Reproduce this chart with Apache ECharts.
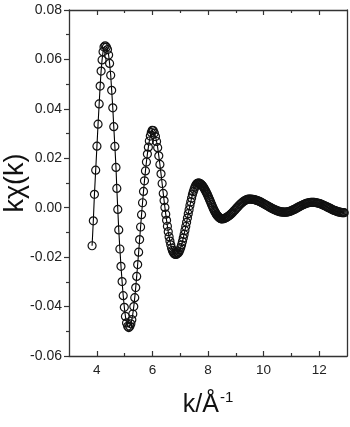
<!DOCTYPE html>
<html><head><meta charset="utf-8">
<script src="https://cdn.jsdelivr.net/npm/echarts@6/dist/echarts.min.js"></script>
<style>html,body{margin:0;padding:0;background:#fff}#c{width:350px;height:427px}</style>
</head><body><div id="c"></div>
<script>
const kValues = [
3.83,3.875,3.915,3.96,4.005,4.045,4.085,4.12,4.155,4.19,4.225,4.26,4.30,
4.345,4.385,4.425,4.46,4.50,4.535,4.575,4.61,4.65,4.69,4.72,4.755,4.79,4.83,4.87,4.91,4.95,4.99,5.03,5.07,5.11,5.15,5.19,
5.225,5.26,5.295,5.33,5.365,5.40,5.435,5.47,5.505,5.54,5.575,5.61,5.645,5.68,5.715,5.75,5.785,5.82,5.855,5.89,5.925,5.96,5.995,
6.03,6.07,6.11,6.15,6.19,6.23,6.27,6.31,6.35,6.39,6.42,6.45,6.48,6.51,6.54,6.57,6.60,6.63,6.66,6.69,6.72,6.75,6.78,6.81,6.84,6.87,6.90,
6.93,6.96,6.99,7.02,7.05,7.08,7.11,7.14,7.17,7.20,7.23,7.26,7.29,7.32,7.35,7.38,7.41,7.44,7.47,7.50,7.53,7.56,7.59,7.62,7.65,
7.675,7.70,7.725,7.75,7.775,7.80,7.825,7.85,7.875,7.90,7.925,7.95,7.975,8.00,8.025,8.05,8.075,8.10,8.125,8.15,8.175,8.20,8.225,8.25,8.275,8.30,8.325,8.35,8.375,8.40,8.425,8.45,8.475,8.50,
8.54,8.58,8.62,8.66,8.70,8.74,8.78,8.82,8.86,8.90,8.94,8.98,9.02,9.06,9.10,9.14,9.18,9.22,9.26,9.30,9.34,9.38,9.42,9.46,9.50,
9.54,9.58,9.62,9.66,9.70,9.74,9.78,9.82,9.86,9.90,9.94,9.98,10.02,10.06,10.10,10.14,10.18,10.22,10.26,10.30,10.34,10.38,10.42,10.46,10.50,10.54,10.58,10.62,10.66,10.70,10.74,
10.78,10.82,10.86,10.90,10.94,10.98,11.02,11.06,11.10,11.14,11.18,11.22,11.26,11.30,11.34,11.38,11.42,11.46,11.50,11.54,11.58,11.62,11.66,11.70,11.74,
11.78,11.82,11.86,11.90,11.94,11.98,12.02,12.06,12.10,12.14,12.18,12.22,12.26,12.30,12.34,12.38,12.42,12.46,12.50,12.54,12.58,12.62,12.66,12.70,12.74,12.78,12.82,12.86,12.90
];
const chiValues = [
-0.0154,-0.0053,0.0054,0.0152,0.0249,0.0338,0.0420,0.0492,0.0553,0.0598,0.0631,0.0650,0.0655,
0.0650,0.0640,0.0618,0.0584,0.0536,0.0475,0.0404,0.0328,0.0248,0.0163,0.0078,-0.0007,-0.0090,-0.0167,-0.0237,-0.0299,-0.0356,-0.0403,-0.0440,-0.0466,-0.0480,-0.0485,-0.0480,
-0.0470,-0.0453,-0.0430,-0.0400,-0.0364,-0.0323,-0.0278,-0.0230,-0.0180,-0.0129,-0.0078,-0.0028,0.0020,0.0066,0.0109,0.0149,0.0185,0.0217,0.0245,0.0270,0.0290,0.0304,0.0313,
0.0312,0.0302,0.0288,0.0268,0.0243,0.0210,0.0175,0.0137,0.0098,0.0058,0.0029,0.0001,-0.0026,-0.0051,-0.0075,-0.0097,-0.0117,-0.0135,-0.0150,-0.0163,-0.0173,-0.0180,-0.0185,-0.0188,-0.0189,-0.0188,-0.0184,
-0.0183,-0.0178,-0.0170,-0.0161,-0.0150,-0.0137,-0.0123,-0.0108,-0.0092,-0.0076,-0.0059,-0.0042,-0.0024,-0.0008,0.0009,0.0024,0.0039,0.0053,0.0065,0.0075,0.0084,0.0091,0.0096,0.0099,0.0100,
0.0100,0.0099,0.0097,0.0095,0.0092,0.0089,0.0085,0.0081,0.0076,0.0071,0.0066,0.0060,0.0054,0.0047,0.0041,0.0034,0.0028,0.0021,0.0014,0.0008,0.0001,-0.0005,-0.0011,-0.0016,-0.0021,-0.0026,-0.0030,-0.0034,-0.0037,-0.0040,-0.0042,-0.0044,-0.0045,-0.0045,
-0.0045,-0.0044,-0.0042,-0.0040,-0.0037,-0.0034,-0.0030,-0.0026,-0.0022,-0.0017,-0.0012,-0.0008,-0.0002,0.0002,0.0007,0.0012,0.0016,0.0020,0.0024,0.0027,0.0030,0.0032,0.0034,0.0035,0.0035,
0.0035,0.0034,0.0034,0.0033,0.0032,0.0030,0.0029,0.0027,0.0025,0.0023,0.0020,0.0018,0.0015,0.0013,0.0010,0.0008,0.0005,0.0002,0.0000,-0.0003,-0.0005,-0.0007,-0.0009,-0.0011,-0.0013,-0.0014,-0.0016,-0.0017,-0.0017,-0.0018,-0.0018,
-0.0018,-0.0018,-0.0017,-0.0016,-0.0015,-0.0013,-0.0011,-0.0009,-0.0007,-0.0005,-0.0002,0.0000,0.0003,0.0005,0.0008,0.0010,0.0012,0.0014,0.0016,0.0018,0.0019,0.0020,0.0021,0.0022,0.0022,
0.0022,0.0022,0.0021,0.0020,0.0019,0.0018,0.0017,0.0015,0.0013,0.0011,0.0009,0.0007,0.0005,0.0002,0.0000,-0.0002,-0.0004,-0.0007,-0.0009,-0.0011,-0.0012,-0.0014,-0.0016,-0.0017,-0.0018,-0.0019,-0.0020,-0.0020,-0.0020
];
const xMajorTicks = [4, 6, 8, 10, 12];
const xMinorTicks = [5, 7, 9, 11];
const yMin = -0.06, yMax = 0.08, yStep = 0.02;
const xMin = 3, xMax = 13;

const axisColor = '#333';
const labelColor = '#222';
const FONT = '"Liberation Sans", Arial, sans-serif';

const chart = echarts.init(document.getElementById('c'), null, {renderer: 'canvas'});
const data = kValues.map((k, i) => [k, chiValues[i]]);

function xAxisCfg(pos, ticks, len, showLabels, showLine, name) {
  const a = {
    type: 'value', position: pos, min: xMin, max: xMax, interval: 1,
    axisLine: {show: showLine, onZero: false, lineStyle: {color: axisColor, width: 1.3}},
    axisTick: {show: true, inside: true, length: len, customValues: ticks, lineStyle: {color: axisColor, width: 1.2}},
    axisLabel: {show: showLabels, customValues: xMajorTicks, color: labelColor, fontFamily: FONT, fontSize: 13.5, margin: 7,
      formatter: v => (v % 2 === 0 ? String(v) : '')},
    splitLine: {show: false}
  };
  if (name) {
    a.name = '{n|k/Å}{s|-1}';
    a.nameLocation = 'middle';
    a.nameGap = 34;
    a.nameMoveOverlap = false;
    a.nameTextStyle = {
      fontFamily: FONT, color: '#111',
      rich: {
        n: {fontSize: 25, fontFamily: FONT, color: '#111', lineHeight: 30},
        s: {fontSize: 15, fontFamily: FONT, color: '#111', padding: [0, 0, 14, 1]}
      }
    };
  }
  return a;
}

chart.setOption({
  animation: false,
  backgroundColor: '#fff',
  grid: {left: 69, right: 3, top: 10, bottom: 71, containLabel: false, outerBoundsMode: 'none'},
  xAxis: [
    xAxisCfg('bottom', xMajorTicks, 5, true, true, true),
    xAxisCfg('bottom', xMinorTicks, 3, false, false, false),
    xAxisCfg('top', xMajorTicks, 5, false, true, false),
    xAxisCfg('top', xMinorTicks, 3, false, false, false)
  ],
  yAxis: [
    {
      type: 'value', position: 'left', min: yMin, max: yMax, interval: yStep,
      name: 'kχ(k)', nameLocation: 'middle', nameRotate: 90, nameGap: 40, nameMoveOverlap: false,
      nameTextStyle: {fontFamily: FONT, fontSize: 27, color: '#111'},
      axisLine: {show: true, onZero: false, lineStyle: {color: axisColor, width: 1.3}},
      axisTick: {show: true, inside: false, length: 5, lineStyle: {color: axisColor, width: 1.2}},
      minorTick: {show: true, splitNumber: 2, length: 3, lineStyle: {color: axisColor, width: 1.2}},
      axisLabel: {color: labelColor, fontFamily: FONT, fontSize: 14, margin: 7, formatter: v => v.toFixed(2)},
      splitLine: {show: false}
    },
    {
      type: 'value', position: 'right', min: yMin, max: yMax, interval: yStep,
      axisLine: {show: true, onZero: false, lineStyle: {color: axisColor, width: 1.3}},
      axisTick: {show: false}, axisLabel: {show: false}, splitLine: {show: false}
    }
  ],
  series: [{
    type: 'line',
    data: data,
    xAxisIndex: 0, yAxisIndex: 0,
    symbol: 'circle', symbolSize: 8, showAllSymbol: true,
    lineStyle: {color: '#000', width: 1.1},
    itemStyle: {color: 'rgba(255,255,255,0)', borderColor: '#111', borderWidth: 1.2},
    emphasis: {disabled: true},
    silent: true
  }]
});
</script></body></html>
